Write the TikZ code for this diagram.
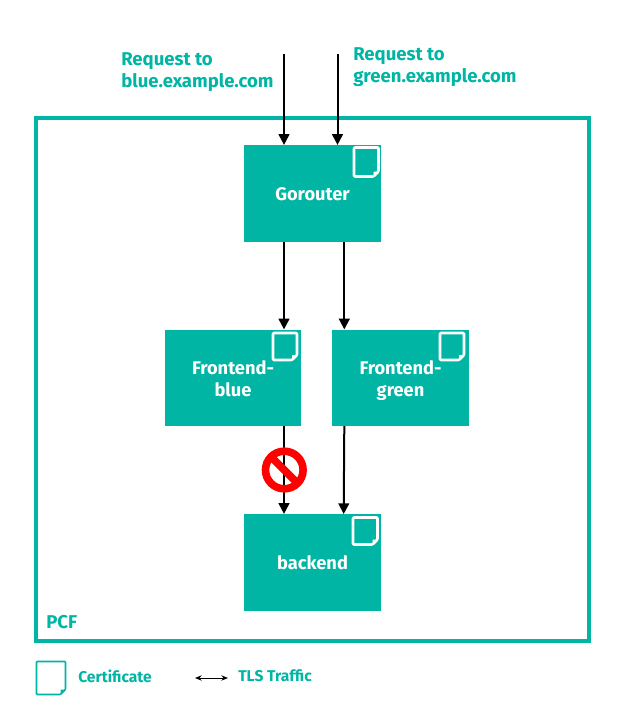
\documentclass[tikz,border=0pt]{standalone}
\usepackage{fontspec}
\setmainfont{Fira Sans}
\usetikzlibrary{arrows.meta}
\definecolor{teal1}{HTML}{00B5A3}
\newcommand{\boxtop}{\vrule height 16pt depth 0pt width 0pt}
\newcommand{\labtop}{\vrule height 14.6pt depth 0pt width 0pt}
\tikzset{
  x=0.75pt,y=-0.75pt,
  box/.style={fill=teal1,draw=none,inner sep=0,minimum width=102.75pt,minimum height=72.5pt,text=white,font=\fontsize{13.7}{16.5}\selectfont\bfseries,align=center},
  lab/.style={text=teal1,font=\fontsize{13.9}{16.5}\selectfont\bfseries,align=left,inner sep=0,anchor=west},
  small/.style={text=teal1,font=\fontsize{11.7}{13}\selectfont\bfseries,inner sep=0,anchor=west},
  flow/.style={draw=black,line width=1.5pt,-{Triangle[length=8pt,width=8pt]}},
  certw/.style={draw=white,fill=teal1,line width=1.9pt,line join=round},
  certt/.style={draw=teal1,fill=white,line width=1.2pt,line join=round},
  foldw/.style={fill=white},
  foldt/.style={fill=teal1},
  nosign/.style={draw=red,line width=5.7pt},
}
\newcommand{\certicon}[7]{% x1 y1 x2 y2 fold style foldstyle
  \draw[#6,rounded corners=0.6pt] (#1,#2) -- (#3,#2) -- (#3,#4-#5) -- (#3-#5,#4) -- (#1,#4) -- cycle;
  \fill[#7] (#3,#4-#5) -- (#3-#5,#4) -- (#3-#5,#4-#5) -- cycle;
}
\begin{document}
\begin{tikzpicture}
\useasboundingbox (0,0) rectangle (628,713);
\node[draw=teal1,line width=2.6pt,inner sep=0,minimum width=414.75pt,minimum height=392.25pt] (pcf) at (312.5,379.5) {};
\node[lab] (pcflabel) at (46,622.5) {PCF};
\node[box] (gorouter) at (312.5,193.5) {\boxtop\strut Gorouter};
\node[box,minimum width=102pt] (fblue) at (233,378) {\boxtop\strut Frontend-\\\strut blue};
\node[box] (fgreen) at (400.5,378) {\boxtop\strut Frontend-\\\strut green};
\node[box] (backend) at (312.5,562.5) {\boxtop\strut backend};
\node[lab] (reqb) at (121,70) {\labtop\strut Request to\\\strut blue.example.com};
\node[lab] (reqg) at (353,65) {\labtop\strut Request to\\\strut green.example.com};
\coordinate (inb) at (284,54);
\coordinate (ing) at (337.5,54);
\coordinate (gb) at (284,242);
\coordinate (gg) at (344.3,242);
\coordinate (fb) at (284,426);
\coordinate (fg) at (344.3,426);
\coordinate (bg) at (343.7,514);
\draw[flow] (inb) -- (inb |- gorouter.north);
\draw[flow] (ing) -- (ing |- gorouter.north);
\draw[flow] (gb) -- (gb |- fblue.north);
\draw[flow] (gg) -- (gg |- fgreen.north);
\draw[flow] (fb) -- (fb |- backend.north);
\draw[flow] (fg) -- (bg);
\certicon{354}{147.5}{378.5}{176.5}{5}{certw}{foldw}
\certicon{273}{333}{297}{360}{5}{certw}{foldw}
\certicon{440}{333}{464}{360}{5}{certw}{foldw}
\certicon{353}{517.5}{377.5}{544.5}{5}{certw}{foldw}
\certicon{36.5}{661.5}{65.5}{694.5}{5}{certt}{foldt}
\node[small] (certlabel) at (78,676) {Certificate};
\node[small] (tlslabel) at (238,676) {TLS Traffic};
\coordinate (la) at (195,678);
\coordinate (lb) at (228,678);
\draw[black,line width=0.75pt,{Stealth[length=5pt,width=4pt]}-{Stealth[length=5pt,width=4pt]}] (la) -- (lb);
\draw[nosign] (284.3,470) circle (18.8);
\draw[nosign] (271.3,457) -- (297.3,483);
\end{tikzpicture}
\end{document}
